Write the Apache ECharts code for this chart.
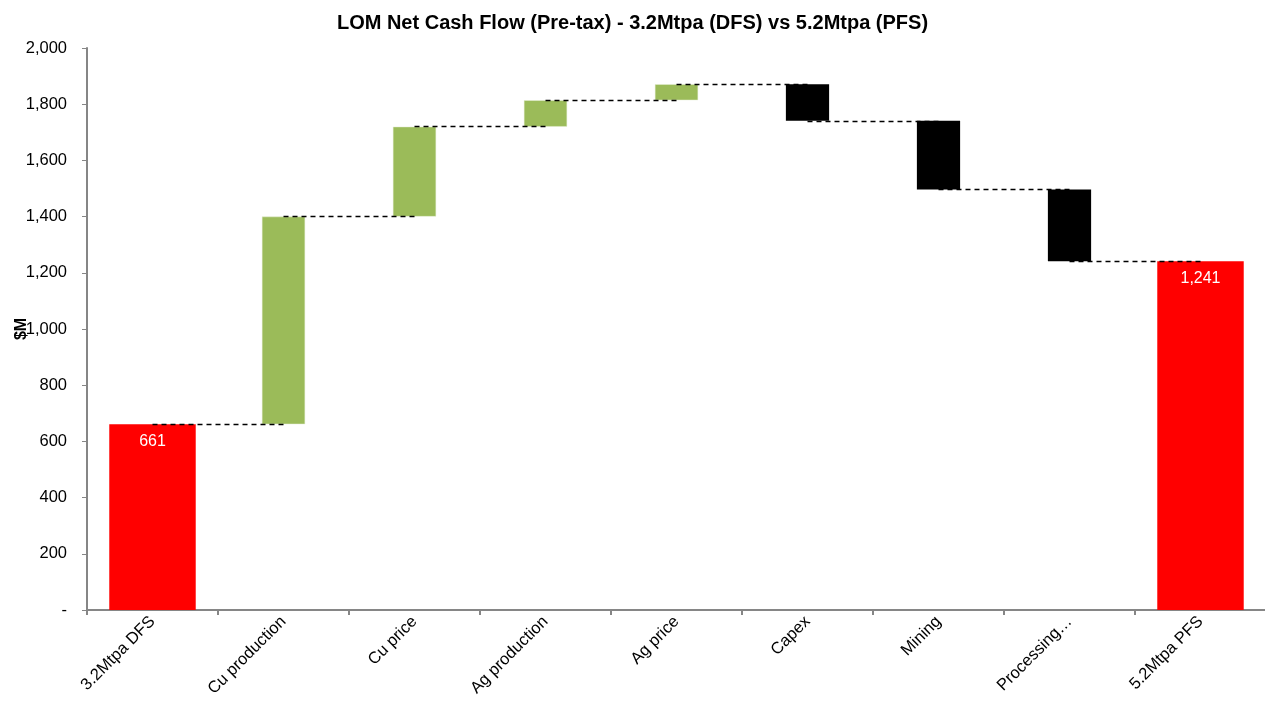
<!DOCTYPE html>
<html>
<head>
<meta charset="utf-8">
<title>LOM Net Cash Flow</title>
<script src="https://cdn.jsdelivr.net/npm/echarts@6/dist/echarts.min.js"></script>
<style>
  * { margin: 0; padding: 0; }
  html, body { background: #fff; }
  #chart { width: 1265px; height: 702px; }
</style>
</head>
<body>
<div id="chart"></div>
<script>
// categories of the bridge
const categories = [
  "3.2Mtpa DFS", "Cu production", "Cu price", "Ag production", "Ag price",
  "Capex", "Mining", "Processing…", "5.2Mtpa PFS"
];
// start / end totals (red bars)
const totals = [661, null, null, null, null, null, null, null, 1241];
// movements between the two studies ($M)
const deltas = [null, 739, 320, 94, 57, -130, -245, -255, null];
const yTicks = [0, 200, 400, 600, 800, 1000, 1200, 1400, 1600, 1800, 2000];

// running level after each category
const levels = [];
let run = 0;
for (let i = 0; i < categories.length; i++) {
  if (totals[i] != null) run = totals[i];
  else run += deltas[i];
  levels.push(run);
}

const baseData = [];
const upData = [];
const downData = [];
for (let i = 0; i < categories.length; i++) {
  const d = deltas[i];
  if (d == null) {
    baseData.push("-"); upData.push("-"); downData.push("-");
    continue;
  }
  const before = levels[i] - d;
  baseData.push(Math.min(before, levels[i]));
  upData.push(d > 0 ? d : "-");
  downData.push(d < 0 ? -d : "-");
}

// dashed connectors from bar centre to next bar centre
const connectors = [];
for (let i = 0; i < categories.length - 1; i++) {
  connectors.push([{ coord: [i, levels[i]] }, { coord: [i + 1, levels[i]] }]);
}

const font = "'Liberation Sans', Arial, sans-serif";
const myChart = echarts.init(document.getElementById("chart"), null, { renderer: "canvas" });

const option = {
  animation: false,
  backgroundColor: "#fff",
  textStyle: { fontFamily: font },
  title: {
    text: "LOM Net Cash Flow (Pre-tax) - 3.2Mtpa (DFS) vs 5.2Mtpa (PFS)",
    left: "center",
    top: 8,
    textStyle: { fontSize: 20, fontWeight: "bold", color: "#000", fontFamily: font }
  },
  grid: {
    left: 87, right: -1, top: 48, bottom: 92,
    containLabel: false, outerBoundsMode: "none"
  },
  xAxis: [
    {
      type: "category",
      data: categories,
      axisLine: { lineStyle: { color: "#868686", width: 2 } },
      axisTick: { show: true, length: 5, lineStyle: { color: "#868686", width: 2 } },
      axisLabel: {
        rotate: 45, interval: 0, margin: 9,
        fontSize: 16.5, color: "#000", fontFamily: font
      }
    },
    {
      type: "category",
      data: categories,
      show: false
    }
  ],
  yAxis: {
    type: "value",
    min: yTicks[0],
    max: yTicks[yTicks.length - 1],
    interval: 200,
    name: "$M",
    nameLocation: "middle",
    nameRotate: 90,
    nameGap: 57,
    nameMoveOverlap: false,
    nameTextStyle: { fontSize: 16, fontWeight: "bold", color: "#000", fontFamily: font },
    axisLine: { show: true, lineStyle: { color: "#868686", width: 2 } },
    axisTick: { show: true, length: 5, lineStyle: { color: "#868686", width: 1 } },
    splitLine: { show: false },
    axisLabel: {
      fontSize: 16.5, color: "#000", margin: 20, fontFamily: font,
      formatter: (v) => (v === 0 ? "-" : v.toLocaleString("en-US"))
    }
  },
  series: [
    {
      name: "base",
      type: "bar",
      stack: "bridge",
      xAxisIndex: 0,
      barWidth: "33%",
      itemStyle: { color: "transparent" },
      data: baseData,
      markLine: {
        silent: true,
        symbol: "none",
        label: { show: false },
        lineStyle: { type: [5, 4], color: "#000", width: 1.3 },
        data: connectors
      }
    },
    {
      name: "up",
      type: "bar",
      stack: "bridge",
      xAxisIndex: 0,
      itemStyle: { color: "#9bbb59", borderColor: "#e6efd6", borderWidth: 0.5 },
      data: upData
    },
    {
      name: "down",
      type: "bar",
      stack: "bridge",
      xAxisIndex: 0,
      itemStyle: { color: "#000" },
      data: downData
    },
    {
      name: "total",
      type: "bar",
      xAxisIndex: 1,
      barWidth: "66%",
      itemStyle: { color: "#ff0000" },
      label: {
        show: true,
        position: "insideTop",
        distance: 9,
        color: "#fff",
        fontSize: 16,
        fontFamily: font,
        formatter: (p) => p.value.toLocaleString("en-US")
      },
      data: totals.map((v) => (v == null ? "-" : v))
    }
  ]
};

myChart.setOption(option);
</script>
</body>
</html>
